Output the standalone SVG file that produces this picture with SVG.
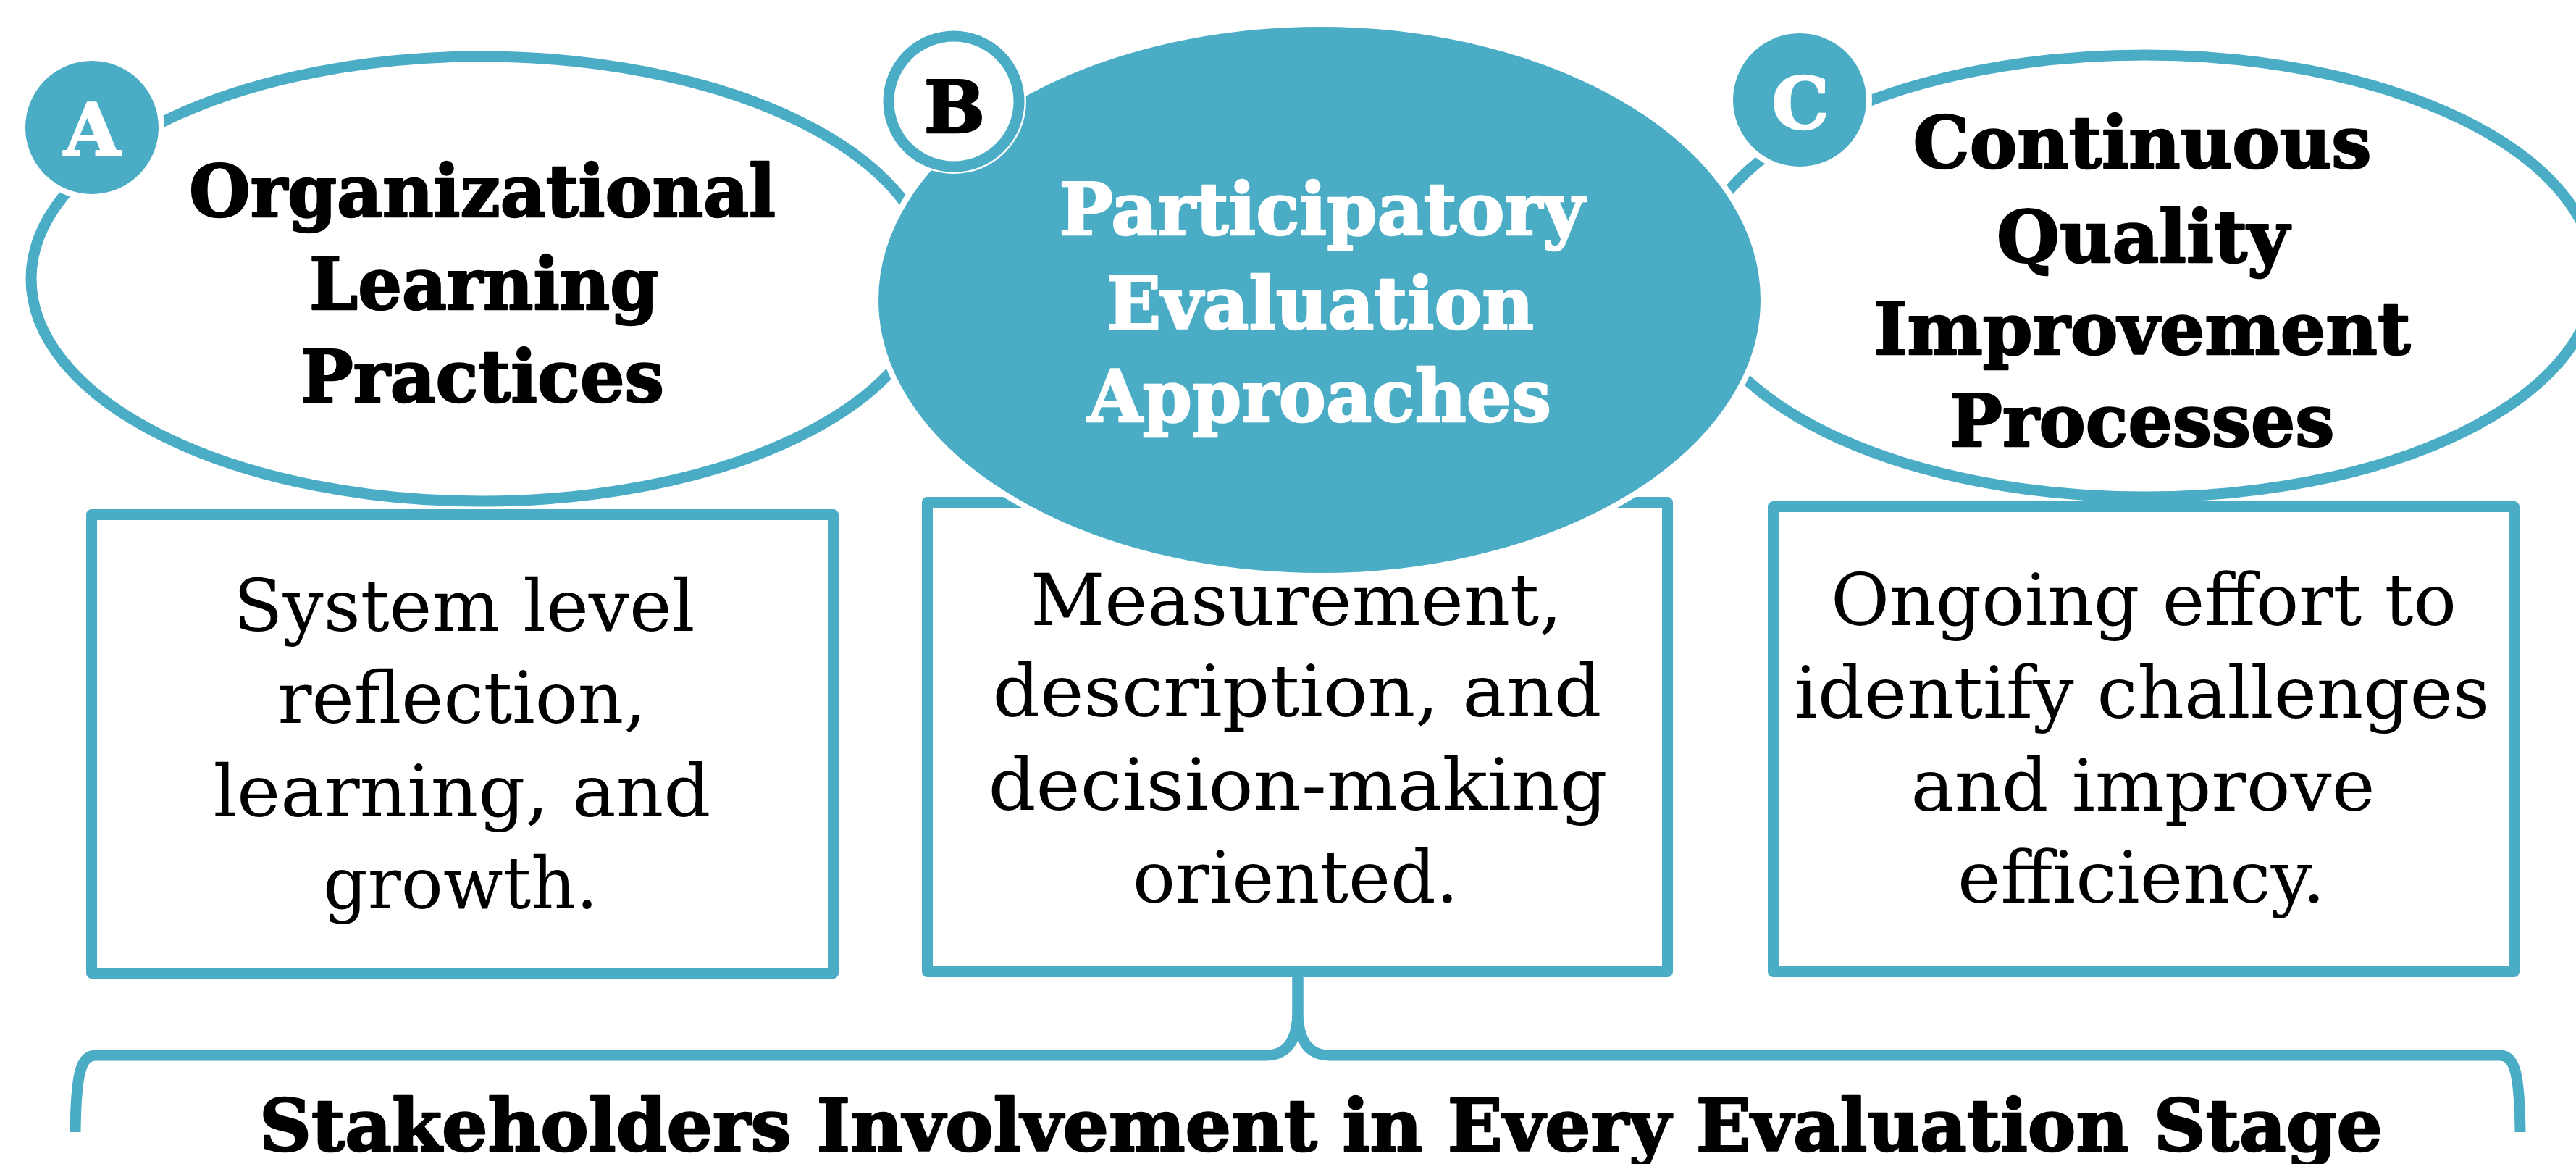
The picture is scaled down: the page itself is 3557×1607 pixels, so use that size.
<svg xmlns="http://www.w3.org/2000/svg" width="3557" height="1607" viewBox="0 0 3557 1607">
<style>
.ring{fill:#FFFFFF;stroke:#4BACC6;stroke-width:15}
.box{fill:#FFFFFF;stroke:#4BACC6;stroke-width:15;stroke-linejoin:round}
.halo{stroke:#FFFFFF;stroke-width:8}
.ttl{font-family:"DejaVu Serif","Liberation Serif",serif;font-weight:bold;font-size:100px;text-anchor:middle;stroke-width:2.5;stroke-linejoin:round}
.blk{fill:#000000;stroke:#000000}
.wht{fill:#FFFFFF;stroke:#FFFFFF}
.body{font-family:"DejaVu Serif","Liberation Serif",serif;font-size:100px;text-anchor:middle;fill:#000000}
.conn{fill:none;stroke:#4BACC6;stroke-width:15;stroke-linejoin:round}
</style>
<rect width="3557" height="1607" fill="#FFFFFF"/>

<g id="node-A">
  <ellipse class="ring" cx="665" cy="385" rx="622" ry="307"/>
  <circle cx="127" cy="176" r="96" fill="#4BACC6" class="halo"/>
  <text class="ttl wht" x="127" y="214">A</text>
  <text class="ttl blk"><tspan x="666" y="299" textLength="810" lengthAdjust="spacingAndGlyphs">Organizational</tspan><tspan x="668" y="427" textLength="482" lengthAdjust="spacingAndGlyphs">Learning</tspan><tspan x="666" y="555" textLength="502" lengthAdjust="spacingAndGlyphs">Practices</tspan></text>
</g>

<g id="node-C">
  <ellipse class="ring" cx="2961" cy="381" rx="622" ry="305"/>
  <circle cx="2485" cy="138" r="96" fill="#4BACC6" class="halo"/>
  <text class="ttl wht" x="2486" y="178">C</text>
  <text class="ttl blk"><tspan x="2958" y="232" textLength="633" lengthAdjust="spacingAndGlyphs">Continuous</tspan><tspan x="2959" y="362" textLength="404" lengthAdjust="spacingAndGlyphs">Quality</tspan><tspan x="2958" y="489" textLength="741" lengthAdjust="spacingAndGlyphs">Improvement</tspan><tspan x="2958" y="616" textLength="531" lengthAdjust="spacingAndGlyphs">Processes</tspan></text>
</g>

<g id="box-A">
  <rect class="box" x="126.5" y="710.5" width="1024" height="633"/>
  <text class="body"><tspan x="641" y="871" textLength="637" lengthAdjust="spacingAndGlyphs">System level</tspan><tspan x="638" y="998" textLength="509" lengthAdjust="spacingAndGlyphs">reflection,</tspan><tspan x="638" y="1127" textLength="687" lengthAdjust="spacingAndGlyphs">learning, and</tspan><tspan x="636" y="1254" textLength="380" lengthAdjust="spacingAndGlyphs">growth.</tspan></text>
</g>

<g id="box-B">
  <rect class="box" x="1280.5" y="693.5" width="1022" height="648"/>
  <text class="body"><tspan x="1790" y="863" textLength="734" lengthAdjust="spacingAndGlyphs">Measurement,</tspan><tspan x="1791" y="989" textLength="841" lengthAdjust="spacingAndGlyphs">description, and</tspan><tspan x="1792" y="1118" textLength="855" lengthAdjust="spacingAndGlyphs">decision-making</tspan><tspan x="1789" y="1246" textLength="450" lengthAdjust="spacingAndGlyphs">oriented.</tspan></text>
</g>

<g id="box-C">
  <rect class="box" x="2448.5" y="699.5" width="1023" height="642"/>
  <text class="body"><tspan x="2960" y="863" textLength="864" lengthAdjust="spacingAndGlyphs">Ongoing effort to</tspan><tspan x="2958" y="991" textLength="960" lengthAdjust="spacingAndGlyphs">identify challenges</tspan><tspan x="2959" y="1119" textLength="641" lengthAdjust="spacingAndGlyphs">and improve</tspan><tspan x="2957" y="1246" textLength="508" lengthAdjust="spacingAndGlyphs">efficiency.</tspan></text>
</g>

<g id="node-B">
  <ellipse cx="1822" cy="414" rx="613" ry="381" fill="#4BACC6" class="halo"/>
  <circle cx="1317" cy="140" r="100" fill="#FFFFFF"/>
  <circle cx="1317" cy="140" r="90" fill="#FFFFFF" stroke="#4BACC6" stroke-width="15"/>
  <text class="ttl blk" x="1318" y="183">B</text>
  <text class="ttl wht"><tspan x="1825" y="324" textLength="725" lengthAdjust="spacingAndGlyphs">Participatory</tspan><tspan x="1823" y="454" textLength="590" lengthAdjust="spacingAndGlyphs">Evaluation</tspan><tspan x="1822" y="582" textLength="640" lengthAdjust="spacingAndGlyphs">Approaches</tspan></text>
</g>

<g id="connectors">
  <path class="conn" d="M1792,1348 L1792,1395 Q1792,1457 1748,1457 L132,1457 C112,1457 105,1480 104,1563"/>
  <path class="conn" d="M1792,1348 L1792,1395 Q1792,1457 1836,1457 L3452,1457 C3472,1457 3479,1480 3480,1563"/>
</g>

<g id="label-bottom">
  <text class="ttl blk" x="1824" y="1589" textLength="2932" lengthAdjust="spacingAndGlyphs">Stakeholders Involvement in Every Evaluation Stage</text>
</g>
</svg>
